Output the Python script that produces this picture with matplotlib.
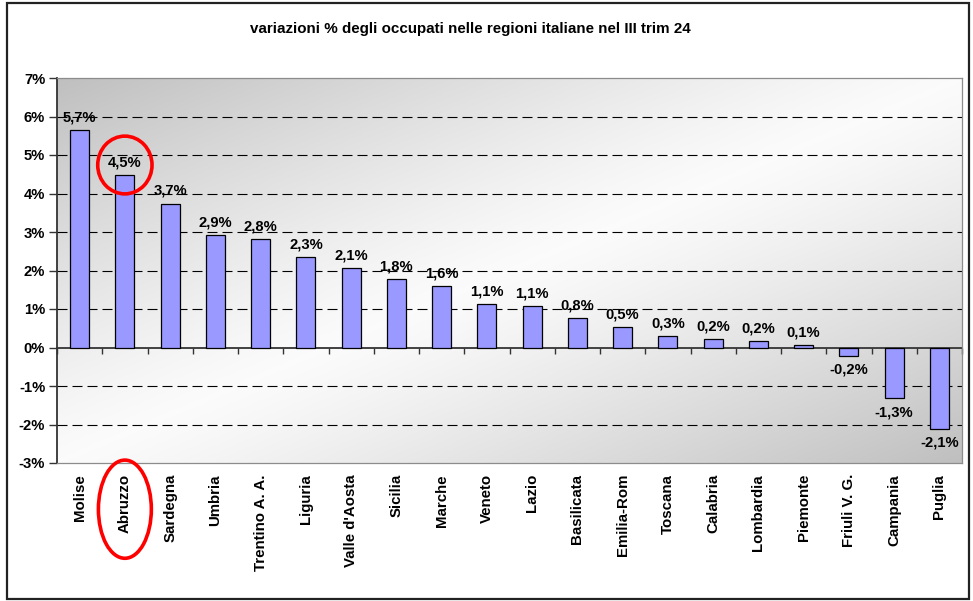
import matplotlib
matplotlib.use("Agg")
import matplotlib.pyplot as plt
import numpy as np
from matplotlib.patches import Ellipse, Rectangle

plt.rcParams['font.family'] = ['Liberation Sans', 'DejaVu Sans']

regions = ["Molise", "Abruzzo", "Sardegna", "Umbria", "Trentino A. A.", "Liguria",
           "Valle d'Aosta", "Sicilia", "Marche", "Veneto", "Lazio", "Basilicata",
           "Emilia-Rom", "Toscana", "Calabria", "Lombardia", "Piemonte",
           "Friuli V. G.", "Campania", "Puglia"]
values = [5.66, 4.49, 3.74, 2.92, 2.82, 2.34, 2.07, 1.78, 1.60, 1.13, 1.08, 0.77,
          0.53, 0.30, 0.22, 0.18, 0.06, -0.22, -1.32, -2.11]
labels = ["5,7%", "4,5%", "3,7%", "2,9%", "2,8%", "2,3%", "2,1%", "1,8%", "1,6%",
          "1,1%", "1,1%", "0,8%", "0,5%", "0,3%", "0,2%", "0,2%", "0,1%",
          "-0,2%", "-1,3%", "-2,1%"]
yticks = [-3, -2, -1, 0, 1, 2, 3, 4, 5, 6, 7]
ytick_labels = ["-3%", "-2%", "-1%", "0%", "1%", "2%", "3%", "4%", "5%", "6%", "7%"]
title = "variazioni % degli occupati nelle regioni italiane nel III trim 24"
highlight = "Abruzzo"

W, H = 973, 601
fig = plt.figure(figsize=(W / 100, H / 100), dpi=100)
fig.patch.set_facecolor("white")

# outer border
fig.patches.append(Rectangle((6.5 / W, 2.5 / H), 962 / W, 595.5 / H, transform=fig.transFigure,
                             fill=False, edgecolor="#222222", linewidth=1.6))

ax = fig.add_axes([57 / W, 1 - 463 / H, 905 / W, 385 / H])
n = len(regions)
x = np.arange(n)
ax.set_xlim(-0.5, n - 0.5)
ax.set_ylim(-3, 7)

# gradient background (diagonal, grey corners, white centre)
gx, gy = np.meshgrid(np.linspace(0, 1, 300), np.linspace(0, 1, 200))
t = (gx + gy) / 2.0
d = np.abs(t - 0.5) * 2
shade = 0.985 - 0.235 * d ** 1.2
img = np.dstack([shade, shade, shade])
ax.imshow(img, extent=[0, 1, 0, 1], transform=ax.transAxes, aspect="auto",
          zorder=0, origin="upper", interpolation="bilinear")

# gridlines
for yv in yticks:
    if yv not in (-3, 0, 7):
        ax.axhline(yv, color="black", linewidth=0.8, linestyle=(0, (9, 4.5)), zorder=1)

ax.bar(x, values, width=0.42, color="#9999FF", edgecolor="black", linewidth=0.9, zorder=3)

FS = 10.6
for xi, v, lab in zip(x, values, labels):
    if v >= 0:
        ax.annotate(lab, (xi, v), xytext=(0, 4), textcoords="offset points",
                    ha="center", va="bottom", fontsize=FS, fontweight="bold", zorder=5)
    else:
        ax.annotate(lab, (xi, v), xytext=(0, -5), textcoords="offset points",
                    ha="center", va="top", fontsize=FS, fontweight="bold", zorder=5)

# spines
for s in ["top", "right", "bottom"]:
    ax.spines[s].set_color("#8c8c8c")
    ax.spines[s].set_linewidth(0.9)
ax.spines["left"].set_color("#333333")
ax.spines["left"].set_linewidth(1.3)

ax.set_yticks(yticks)
ax.set_yticklabels(ytick_labels, fontsize=FS, fontweight="bold")
ax.tick_params(axis="y", direction="out", length=5.5, width=1, color="#333333", pad=3)

ax.set_xticks(x)
ax.set_xticklabels(regions, rotation=90, fontsize=10.8, fontweight="bold", va="top", ha="center")
ax.tick_params(axis="x", length=0, pad=8)

# category axis at zero with boundary tick marks
sec = ax.secondary_xaxis(0.3)
sec.set_xticks(np.arange(n + 1) - 0.5)
sec.set_xticklabels([])
sec.tick_params(direction="out", length=4, width=1, color="#333333")
sec.spines["bottom"].set_color("#333333")
sec.spines["bottom"].set_linewidth(1.3)

fig.text(470.5 / W, 1 - 29.5 / H, title, ha="center", va="center",
         fontsize=10.9, fontweight="bold")

# red highlight ellipses around Abruzzo
hi = regions.index(highlight)
ax.add_patch(Ellipse((hi, values[hi] + 0.25), 1.2, 1.5, fill=False, edgecolor="#ff0000",
                     linewidth=2.6, zorder=6, clip_on=False))
ax.add_patch(Ellipse((hi, -4.2), 1.17, 2.55, fill=False, edgecolor="#ff0000",
                     linewidth=2.6, zorder=6, clip_on=False))

fig.savefig("out.png", dpi=100)
